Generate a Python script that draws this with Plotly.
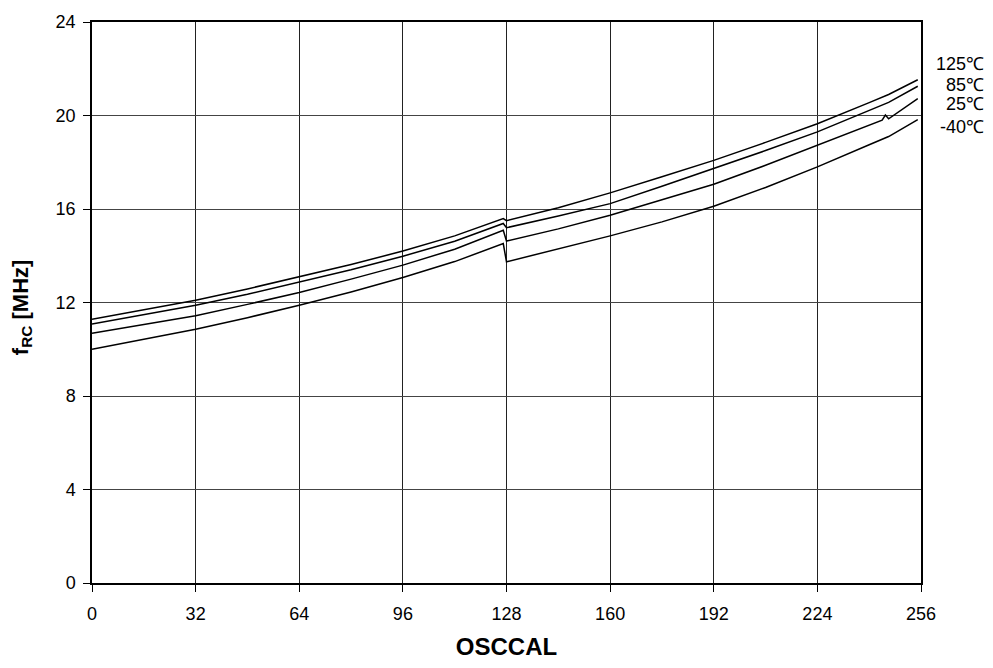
import plotly.graph_objects as go

osccal = [0, 16, 32, 48, 64, 80, 96, 112, 127, 128, 144, 160, 176, 192, 208, 224, 240, 244, 245, 246, 255]

f_125 = [11.28, 11.68, 12.10, 12.58, 13.10, 13.63, 14.20, 14.85, 15.59, 15.50, 16.05, 16.69, 17.38, 18.08, 18.85, 19.65, 20.55, 20.78, 20.84, 20.90, 21.53]
f_85 = [11.08, 11.47, 11.88, 12.35, 12.86, 13.40, 13.98, 14.62, 15.38, 15.20, 15.70, 16.23, 16.97, 17.73, 18.50, 19.30, 20.20, 20.44, 20.50, 20.56, 21.25]
f_25 = [10.68, 11.05, 11.43, 11.92, 12.43, 13.00, 13.60, 14.28, 15.09, 14.63, 15.15, 15.73, 16.38, 17.06, 17.87, 18.73, 19.60, 19.80, 20.02, 19.86, 20.72]
f_m40 = [10.00, 10.42, 10.86, 11.35, 11.88, 12.45, 13.07, 13.75, 14.52, 13.74, 14.30, 14.85, 15.45, 16.12, 16.92, 17.80, 18.75, 18.98, 19.04, 19.10, 19.82]

series_names = ["125℃", "85℃", "25℃", "-40℃"]
series_vals = [f_125, f_85, f_25, f_m40]
label_y = [22.22, 21.30, 20.50, 19.50]

x_ticks = [0, 32, 64, 96, 128, 160, 192, 224, 256]
y_ticks = [0, 4, 8, 12, 16, 20, 24]

FONT = "Liberation Sans, Arial, sans-serif"

fig = go.Figure()
for name, vals in zip(series_names, series_vals):
    fig.add_trace(go.Scatter(x=osccal, y=vals, mode="lines", name=name,
                             line=dict(color="black", width=1.5), showlegend=False))

for name, yv in zip(series_names, label_y):
    fig.add_annotation(x=1.0, xref="paper", xshift=65, y=yv, yref="y", text=name,
                       showarrow=False, xanchor="right", yanchor="middle",
                       font=dict(family=FONT, size=18, color="black"))

fig.add_annotation(x=0, xref="paper", xshift=-70, y=11.8, yref="y",
                   text="<b>f<sub>RC</sub> [MHz]</b>", textangle=-90, showarrow=False,
                   xanchor="center", yanchor="middle",
                   font=dict(family=FONT, size=22, color="black"))

fig.update_layout(
    width=977, height=652,
    margin=dict(l=84, r=64, t=14, b=77, autoexpand=False),
    paper_bgcolor="white", plot_bgcolor="white",
    showlegend=False,
    font=dict(family=FONT, size=18, color="black"),
    xaxis=dict(range=[0, 256], tickvals=x_ticks, ticktext=[str(v) for v in x_ticks],
               showgrid=True, gridcolor="#222", gridwidth=1,
               showline=True, linecolor="black", linewidth=1.5, mirror=True,
               ticks="outside", ticklen=7, tickcolor="black", zeroline=False,
               ticklabelstandoff=7, automargin=False,
               title=dict(text="<b>OSCCAL</b>", font=dict(family=FONT, size=24), standoff=28)),
    yaxis=dict(range=[0, 24], tickvals=y_ticks, ticktext=[str(v) for v in y_ticks],
               showgrid=True, gridcolor="#444", gridwidth=1,
               showline=True, linecolor="black", linewidth=1.5, mirror=True,
               ticks="outside", ticklen=7, tickcolor="black", zeroline=False,
               ticklabelstandoff=4, automargin=False),
)

fig.write_html("out.html")
